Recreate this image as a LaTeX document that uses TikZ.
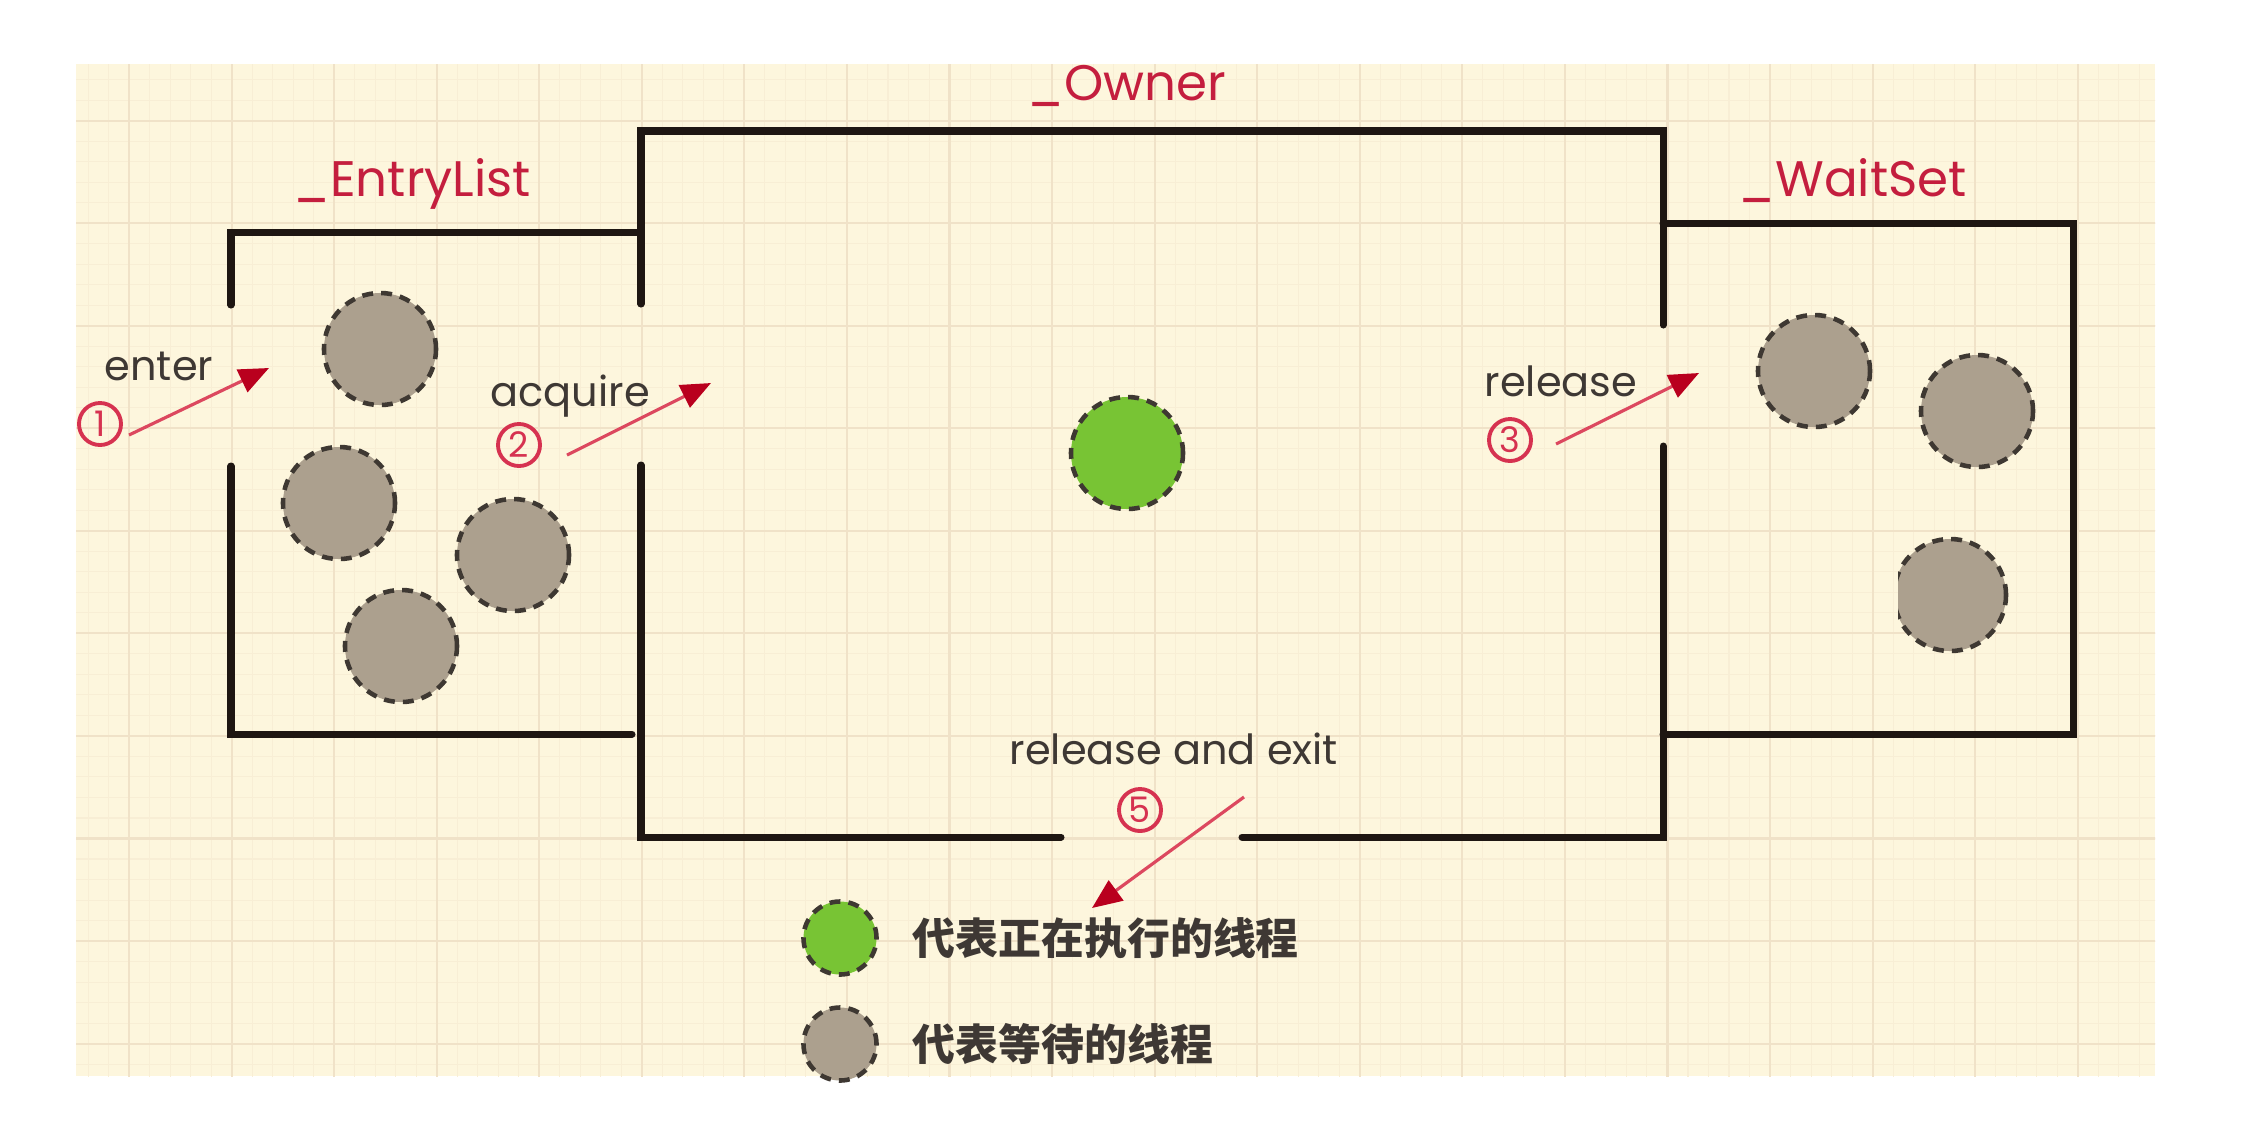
\documentclass[tikz,border=0pt]{standalone}
\usepackage{fontspec}
\setmainfont{Poppins}
\newfontfamily\cjk{Noto Sans CJK SC}
\usetikzlibrary{arrows.meta}
\definecolor{paper}{RGB}{253,246,221}
\definecolor{gridmaj}{RGB}{240,226,200}
\definecolor{gridmin}{RGB}{248,238,213}
\definecolor{wallc}{RGB}{30,22,18}
\definecolor{labelred}{RGB}{196,30,62}
\definecolor{numred}{RGB}{214,50,80}
\definecolor{arrowred}{RGB}{220,72,95}
\definecolor{headred}{RGB}{185,0,30}
\definecolor{textgray}{RGB}{62,56,52}
\definecolor{waitc}{RGB}{172,160,142}
\definecolor{runc}{RGB}{120,196,52}
\definecolor{dashc}{RGB}{62,56,50}
\begin{document}
\begin{tikzpicture}[x=0.01cm,y=-0.01cm,
  wall/.style={draw=wallc,line width=2pt,line cap=round},
  thread/.style={circle,minimum size=1.12cm,inner sep=0pt,fill=waitc,draw=dashc,line width=1.3pt,dash pattern=on 3.1pt off 2.3pt},
  running/.style={thread,fill=runc},
  legendthread/.style={thread,minimum size=0.73cm},
  legendrunning/.style={running,minimum size=0.73cm},
  lbl/.style={text=labelred,font=\fontsize{14.2}{17}\selectfont,anchor=base west,inner sep=0pt},
  act/.style={text=textgray,font=\fontsize{11.8}{14}\selectfont,anchor=base west,inner sep=0pt},
  legtext/.style={text=textgray,font=\cjk\bfseries\fontsize{12.2}{14}\selectfont,anchor=west,inner sep=0pt},
  num/.style={circle,draw=numred,line width=1.1pt,text=numred,minimum size=0.42cm,inner sep=0pt,font=\fontsize{10}{10}\selectfont},
  flow/.style={draw=arrowred,line width=0.9pt,-{Triangle[length=8.5pt,width=7pt,color=headred]}}
]
\useasboundingbox (0,0) rectangle (2242,1144);
\fill[white] (0,0) rectangle (2242,1144);
\fill[paper] (76,64) rectangle (2155,1076);
\begin{scope}
  \clip (76,64) rectangle (2155,1076);
  \begin{scope}[shift={(26.5,18)}]
    \draw[gridmin,line width=0.3pt,step=0.205cm] (-30,-30) grid (2250,1150);
    \draw[gridmaj,line width=0.6pt,step=1.025cm] (-30,-30) grid (2250,1150);
  \end{scope}
\end{scope}

% walls
\draw[wall] (231,305) -- (231,232) -- (641,232);
\draw[wall] (231,466) -- (231,734) -- (632,734);
\draw[wall] (641,304) -- (641,131) -- (1663,131) -- (1663,325);
\draw[wall] (641,465) -- (641,837) -- (1061,837);
\draw[wall] (1242,837) -- (1663,837) -- (1663,446);
\draw[wall] (1663,223) -- (2073,223) -- (2073,734) -- (1663,734);

% labels
\node[lbl] (lentry) at (293,196) {\_EntryList};
\node[lbl] (lowner) at (1027,100) {\_Owner};
\node[lbl] (lwait) at (1738,196) {\_WaitSet};

% threads
\node[thread] (e1) at (380,349) {};
\node[thread] (e2) at (339,503) {};
\node[thread] (e3) at (513,555) {};
\node[thread] (e4) at (401,646) {};
\node[running] (own) at (1127,453) {};
\node[thread] (w1) at (1814,371) {};
\node[thread] (w2) at (1977,411) {};
\begin{scope}
  \clip (1898,500) rectangle (2060,700);
  \node[thread] (w3) at (1950,595) {};
\end{scope}

% action labels
\node[act] (tenter) at (104,380) {enter};
\node[act] (tacq) at (490,406) {acquire};
\node[act] (trel) at (1484,396) {release};
\node[act] (texit) at (1009,764) {release and exit};

% numbers
\node[num] (n1) at (100,424) {1};
\node[num] (n2) at (519,445) {2};
\node[num] (n3) at (1510,440) {3};
\node[num] (n5) at (1140,810) {5};

% arrows
\coordinate (a1s) at (129,435); \coordinate (a1e) at (269,368);
\coordinate (a2s) at (567,455); \coordinate (a2e) at (711,383);
\coordinate (a3s) at (1556,444); \coordinate (a3e) at (1699,373);
\coordinate (a5s) at (1244,797); \coordinate (a5e) at (1092,908);
\draw[flow] (a1s) -- (a1e);
\draw[flow] (a2s) -- (a2e);
\draw[flow] (a3s) -- (a3e);
\draw[flow] (a5s) -- (a5e);

% legend
\node[legendrunning] (legrun) at (840,938) {};
\node[legendthread] (legwait) at (840,1044) {};
\node[legtext] (legt1) at (912,938) {代表正在执行的线程};
\node[legtext] (legt2) at (912,1044) {代表等待的线程};
\end{tikzpicture}
\end{document}
